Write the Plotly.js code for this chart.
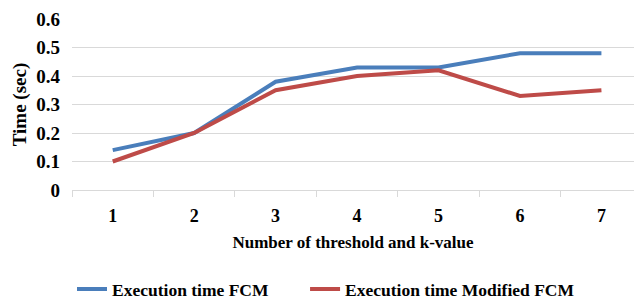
<!DOCTYPE html>
<html><head><meta charset="utf-8">
<script src="https://cdn.plot.ly/plotly-3.0.1.min.js"></script>
<style>html,body{margin:0;padding:0;background:#fff}#c{width:634px;height:300px}</style>
</head><body><div id="c"></div>
<script>
var categories = ['1','2','3','4','5','6','7'];
var fcm = [0.14, 0.20, 0.38, 0.43, 0.43, 0.48, 0.48];
var modifiedFcm = [0.10, 0.20, 0.35, 0.40, 0.42, 0.33, 0.35];
var yTicks = [0, 0.1, 0.2, 0.3, 0.4, 0.5, 0.6];
var yTickText = ['0','0.1','0.2','0.3','0.4','0.5','0.6'];

var fam = '"Liberation Serif", "Times New Roman", serif';
var font = {family:fam, size:18, color:'#000'};
var legFont = {family:fam, size:17.5, color:'#000'};
var traces = [
  {x:categories, y:fcm, type:'scatter', mode:'lines', name:'<b>Execution time FCM</b>',
   line:{color:'#4A7EBB', width:4}, legend:'legend'},
  {x:categories, y:modifiedFcm, type:'scatter', mode:'lines', name:'<b>Execution time Modified FCM</b>',
   line:{color:'#BE4B48', width:4}, legend:'legend2'}
];
var layout = {
  width:634, height:300,
  margin:{l:72, r:0, t:19, b:110, autoexpand:false},
  paper_bgcolor:'#fff', plot_bgcolor:'#fff',
  font:font,
  showlegend:true,
  legend:{orientation:'h', x:0.0, xanchor:'left', yref:'container', y:0.036, yanchor:'middle',
          font:legFont},
  legend2:{orientation:'h', x:0.4147, xanchor:'left', yref:'container', y:0.036, yanchor:'middle',
          font:legFont},
  xaxis:{type:'category', range:[-0.5, 6.4], showgrid:false, zeroline:false,
         showline:true, linecolor:'#d9d9d9', linewidth:1,
         ticks:'outside', tickson:'boundaries', ticklen:6, tickcolor:'#d9d9d9',
         tickvals:categories, ticktext:categories.map(function(t){return '<b>'+t+'</b>';}),
         tickfont:{family:fam, size:18, color:'#000'}, ticklabelstandoff:9,
         title:{text:'<b>Number of threshold and k-value</b>', font:{family:fam, size:17, color:'#000'}, standoff:11}},
  yaxis:{range:[0,0.6], tickvals:yTicks, ticktext:yTickText.map(function(t){return '<b>'+t+'</b>';}),
         showgrid:true, gridcolor:'#d9d9d9', gridwidth:1, zeroline:false,
         ticks:'', ticklabelstandoff:11,
         tickfont:{family:fam, size:19, color:'#000'},
         title:{text:'<b>Time (sec)</b>', font:{family:fam, size:19, color:'#000'}, standoff:4}}
};
Plotly.newPlot('c', traces, layout, {displayModeBar:false, staticPlot:true});
</script></body></html>
